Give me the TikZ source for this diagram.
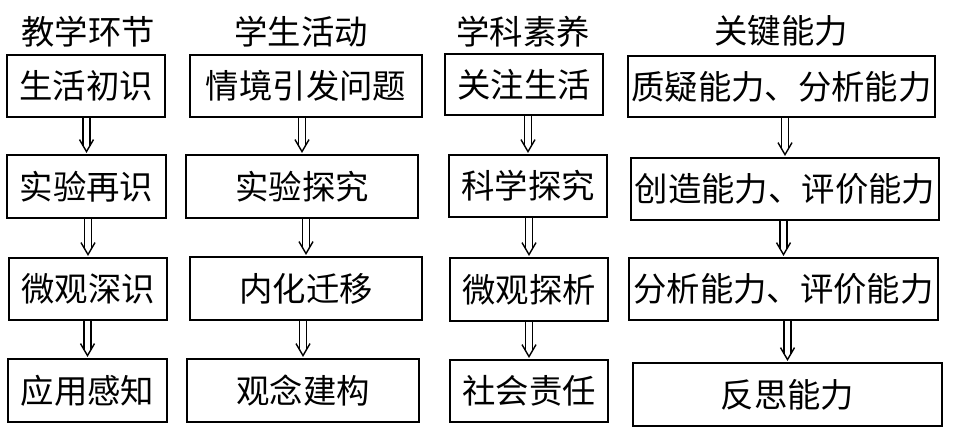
\documentclass[tikz,border=0pt]{standalone}
\usepackage{fontspec}
\setmainfont{Noto Sans CJK SC}
\usetikzlibrary{calc}
\tikzset{
  box/.style={draw=black, line width=1.6pt, inner sep=0pt, font=\fontsize{19}{21}\selectfont, text=black},
  head/.style={inner sep=0pt, font=\fontsize{19}{21}\selectfont, text=black},
  arrline/.style={draw=black, line width=0.8pt},
}
\newcommand\bx[6]{\node[box, minimum width={(#4-#2)*0.02cm}, minimum height={(#5-#3)*0.02cm}] (#1) at ({(#2+#4)/2},{(#3+#5)/2}) {#6};}
\newcommand\arr[2]{%
  \draw[arrline] ($(#2.north |- #1.south)+(-3.5,0)$) -- ($(#2.north)+(-3.5,-8)$);
  \draw[arrline] ($(#2.north |- #1.south)+(3.5,0)$) -- ($(#2.north)+(3.5,-8)$);
  \draw[arrline] ($(#2.north)+(-7,-14)$) -- ($(#2.north)+(0,-2)$) -- ($(#2.north)+(7,-14)$);
}
\begin{document}
\begin{tikzpicture}[x=0.02cm, y=-0.02cm]
\useasboundingbox[fill=white] (0,0) rectangle (964,444);
\node[head] (h1) at (88,32) {教学环节};
\node[head] (h2) at (301,32) {学生活动};
\node[head] (h3) at (523,32) {学科素养};
\node[head] (h4) at (781,31) {关键能力};
% column 1
\bx{a1}{7}{55}{165}{117}{生活初识}
\bx{a2}{7}{155}{166}{218}{实验再识}
\bx{a3}{9}{258}{167}{320}{微观深识}
\bx{a4}{8}{359}{167}{422}{应用感知}
% column 2
\bx{b1}{190}{55}{422}{117}{情境引发问题}
\bx{b2}{186}{155}{418}{218}{实验探究}
\bx{b3}{190}{257}{422}{320}{内化迁移}
\bx{b4}{187}{359}{419}{422}{观念建构}
% column 3
\bx{c1}{445}{54}{603}{115}{关注生活}
\bx{c2}{449}{155}{607}{217}{科学探究}
\bx{c3}{450}{258}{608}{321}{微观探析}
\bx{c4}{450}{360}{608}{422}{社会责任}
% column 4
\bx{d1}{628}{56}{935}{117}{质疑能力、分析能力}
\bx{d2}{631}{158}{939}{220}{创造能力、评价能力}
\bx{d3}{629}{258}{938}{320}{分析能力、评价能力}
\bx{d4}{633}{363}{942}{426}{反思能力}
% arrows
\arr{a1}{a2}\arr{a2}{a3}\arr{a3}{a4}
\arr{b1}{b2}\arr{b2}{b3}\arr{b3}{b4}
\arr{c1}{c2}\arr{c2}{c3}\arr{c3}{c4}
\arr{d1}{d2}\arr{d2}{d3}\arr{d3}{d4}
\end{tikzpicture}
\end{document}
